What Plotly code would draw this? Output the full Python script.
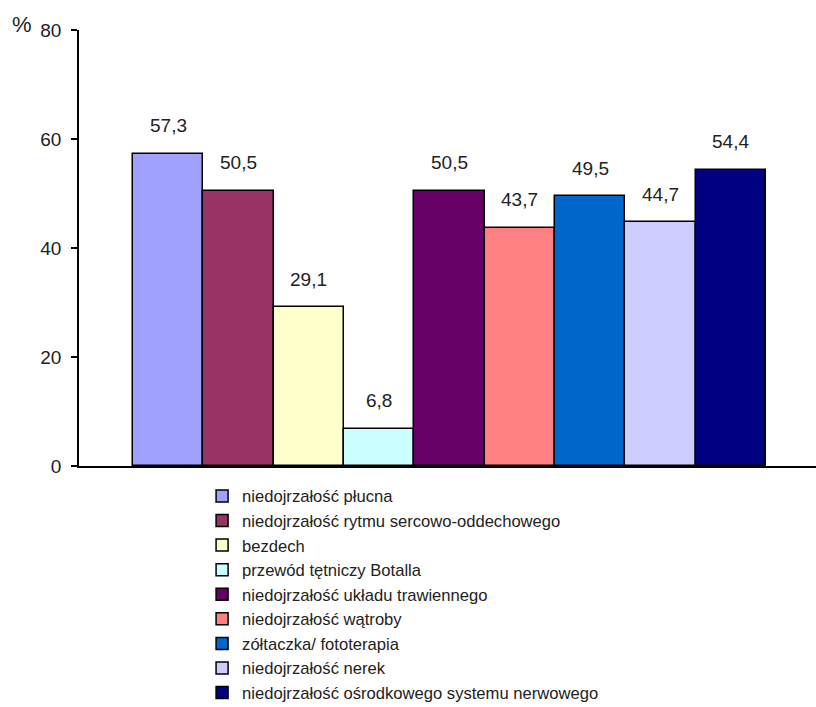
import plotly.graph_objects as go

# Complications of prematurity, share of cases in %
categories = [
    "niedojrzałość płucna",
    "niedojrzałość rytmu sercowo-oddechowego",
    "bezdech",
    "przewód tętniczy Botalla",
    "niedojrzałość układu trawiennego",
    "niedojrzałość wątroby",
    "zółtaczka/ fototerapia",
    "niedojrzałość nerek",
    "niedojrzałość ośrodkowego systemu nerwowego",
]
values = [57.3, 50.5, 29.1, 6.8, 50.5, 43.7, 49.5, 44.7, 54.4]
colors = [
    "#A0A0FF", "#993366", "#FFFFCC", "#CCFFFF", "#660066",
    "#FF8080", "#0066CC", "#CCCCFF", "#000080",
]
y_ticks = [0, 20, 40, 60, 80]

FONT = "Liberation Sans, Arial, sans-serif"
TXT = "#222222"

fig = go.Figure()
for i, (name, v, c) in enumerate(zip(categories, values, colors)):
    fig.add_trace(go.Bar(
        x=[i], y=[v], name=name, width=1,
        marker=dict(color=c, line=dict(color="black", width=1.5)),
        hoverinfo="skip",
    ))
    fig.add_annotation(
        x=i, y=v, text=f"{v:.1f}".replace(".", ","),
        showarrow=False, yshift=28,
        font=dict(family=FONT, size=19, color=TXT),
    )

# axis unit label
fig.add_annotation(
    xref="paper", yref="paper", x=-0.077, y=1.012,
    xanchor="center", yanchor="middle",
    text="%", showarrow=False,
    font=dict(family=FONT, size=22, color=TXT),
)

fig.update_layout(
    width=816, height=707,
    margin=dict(l=79, r=0, t=30, b=241, autoexpand=False),
    paper_bgcolor="white", plot_bgcolor="white",
    font=dict(family=FONT, size=19, color=TXT),
    bargap=0,
    showlegend=True,
    legend=dict(
        orientation="v", x=0.167, xanchor="left", y=-0.029, yanchor="top",
        font=dict(family=FONT, size=16.6, color=TXT),
        bgcolor="rgba(0,0,0,0)", traceorder="normal",
    ),
    xaxis=dict(
        range=[-1.268, 9.211], showticklabels=False, ticks="",
        showline=True, linecolor="black", linewidth=1.5,
        showgrid=False, zeroline=False, fixedrange=True,
    ),
    yaxis=dict(
        range=[0, 80], tickvals=y_ticks, ticks="outside", ticklen=6,
        tickcolor="black", tickwidth=1.5,
        showline=True, linecolor="black", linewidth=1.5,
        showgrid=False, zeroline=False,
        tickfont=dict(family=FONT, size=19, color=TXT),
        ticklabelstandoff=6,
    ),
)

fig.write_html("out.html")
